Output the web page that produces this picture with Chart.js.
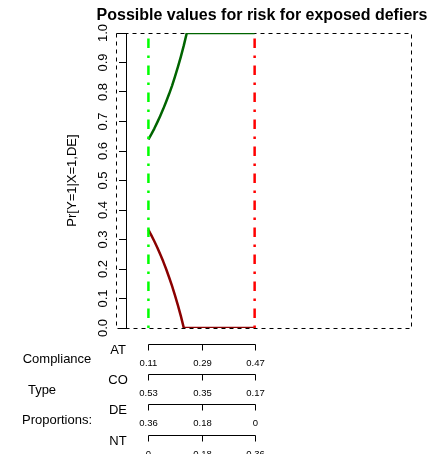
<!DOCTYPE html>
<html>
<head>
<meta charset="utf-8">
<script src="https://cdn.jsdelivr.net/npm/chart.js@4.4.0/dist/chart.umd.min.js"></script>
<style>
  body { margin: 0; background: #fff; }
  canvas { display: block; }
</style>
</head>
<body>
<canvas id="bounds-chart" width="436" height="454"></canvas>
<script>
// Bounds on the risk for exposed defiers across admissible always-taker shares

const FONT = '"Liberation Sans", Arial, Helvetica, sans-serif';

// always-taker proportion along x, with the bounds at each value
const atGrid = [0.11, 0.12, 0.13, 0.14, 0.15, 0.16, 0.17, 0.18, 0.19, 0.20, 0.21, 0.22, 0.23, 0.24, 0.47];
const upperBound = [0.639, 0.657, 0.676, 0.697, 0.719, 0.742, 0.767, 0.793, 0.821, 0.852, 0.885, 0.920, 0.958, 1.000, 1.000];
const lowerBound = [0.333, 0.314, 0.294, 0.273, 0.250, 0.226, 0.200, 0.172, 0.143, 0.111, 0.077, 0.040, 0.000, 0.000, 0.000];

// admissible AT range: minimum (green) and maximum (red)
const atLimits = [0.11, 0.47];
const probRange = [0, 1];

const yTickLabels = ['0.0', '0.1', '0.2', '0.3', '0.4', '0.5', '0.6', '0.7', '0.8', '0.9', '1.0'];

// compliance type proportion scales under the plot
const typeNames = ['AT', 'CO', 'DE', 'NT'];
const typeTickAt = [0.11, 0.29, 0.47];
const typeTicks = [
    ['0.11', '0.29', '0.47'],
    ['0.53', '0.35', '0.17'],
    ['0.36', '0.18', '0'],
    ['0', '0.18', '0.36']
];
const sideLabels = ['Compliance', 'Type', 'Proportions:'];

const toPoints = (xs, ys) => xs.map((v, i) => ({ x: v, y: ys[i] }));

// Frame, title and the proportion scales are drawn by hand
const decorations = {
    id: 'decorations',
    beforeDatasetsDraw(chart) {
        const { ctx, scales: { x, y } } = chart;
        const l = x.getPixelForValue(probRange[0]);
        const r = x.getPixelForValue(probRange[1]);
        const t = y.getPixelForValue(probRange[1]);
        const b = y.getPixelForValue(probRange[0]);
        ctx.save();
        ctx.strokeStyle = '#000';
        ctx.lineWidth = 1;
        ctx.setLineDash([4, 4]);
        ctx.strokeRect(Math.round(l) + 0.5, Math.round(t) + 0.5, Math.round(r - l), Math.round(b - t));
        ctx.restore();
    },
    afterDraw(chart) {
        const { ctx, scales: { x } } = chart;
        ctx.save();
        ctx.fillStyle = '#000';
        ctx.strokeStyle = '#000';
        ctx.lineWidth = 1;

        ctx.font = `bold 16px ${FONT}`;
        ctx.textAlign = 'center';
        ctx.textBaseline = 'alphabetic';
        ctx.fillText('Possible values for risk for exposed defiers', 262, 20);

        const rowTop = 343.5;
        const rowGap = 30.4;
        const xs = typeTickAt.map(v => Math.round(x.getPixelForValue(v)) + 0.5);
        ctx.textBaseline = 'middle';
        typeNames.forEach((name, i) => {
            const yy = Math.round(rowTop + i * rowGap) + 0.5;
            ctx.beginPath();
            ctx.moveTo(xs[0], yy);
            ctx.lineTo(xs[xs.length - 1], yy);
            xs.forEach(px => {
                ctx.moveTo(px, yy);
                ctx.lineTo(px, yy + 6);
            });
            ctx.stroke();

            ctx.font = `9.5px ${FONT}`;
            typeTicks[i].forEach((lab, j) => ctx.fillText(lab, xs[j], yy + 18.5));

            ctx.font = `13px ${FONT}`;
            ctx.fillText(name, 118, yy + 6);
        });

        ctx.font = `13px ${FONT}`;
        ctx.fillText(sideLabels[0], 57, 359);
        ctx.fillText(sideLabels[1], 42, 390);
        ctx.fillText(sideLabels[2], 57, 420);
        ctx.restore();
    }
};

const ctx = document.getElementById('bounds-chart');

new Chart(ctx, {
    type: 'scatter',
    data: {
        datasets: [
            {
                data: toPoints([atLimits[0], atLimits[0]], probRange),
                showLine: true,
                borderColor: '#00ff00',
                borderWidth: 2.5,
                borderDash: [2.5, 7.5, 9.5, 7.5],
                pointRadius: 0
            },
            {
                data: toPoints([atLimits[1], atLimits[1]], probRange),
                showLine: true,
                borderColor: '#ff0000',
                borderWidth: 2.5,
                borderDash: [2.5, 7.5, 9.5, 7.5],
                pointRadius: 0
            },
            {
                data: toPoints(atGrid, upperBound),
                showLine: true,
                borderColor: '#006400',
                borderWidth: 2.5,
                borderJoinStyle: 'round',
                pointRadius: 0,
                tension: 0
            },
            {
                data: toPoints(atGrid, lowerBound),
                showLine: true,
                borderColor: '#8b0000',
                borderWidth: 2.5,
                borderJoinStyle: 'round',
                pointRadius: 0,
                tension: 0
            }
        ]
    },
    options: {
        responsive: false,
        animation: false,
        events: [],
        layout: {
            padding: { left: 61, right: 25, top: 33, bottom: 126 }
        },
        plugins: {
            legend: { display: false },
            tooltip: { enabled: false },
            title: { display: false }
        },
        scales: {
            x: {
                type: 'linear',
                display: false,
                min: 0.034,
                max: 1
            },
            y: {
                type: 'linear',
                min: 0,
                max: 1,
                afterFit: (scale) => { scale.width = 65; },
                border: { display: true, color: '#000', width: 1 },
                grid: {
                    drawOnChartArea: false,
                    drawTicks: true,
                    tickLength: 7,
                    tickColor: '#000'
                },
                ticks: {
                    stepSize: 0.1,
                    minRotation: 90,
                    maxRotation: 90,
                    crossAlign: 'center',
                    padding: 7,
                    color: '#000',
                    font: { family: FONT, size: 13 },
                    callback: (value, index) => yTickLabels[index]
                },
                title: {
                    display: true,
                    text: 'Pr[Y=1|X=1,DE]',
                    color: '#000',
                    font: { family: FONT, size: 13 },
                    padding: { top: 4, bottom: 4 }
                }
            }
        }
    },
    plugins: [decorations]
});
</script>
</body>
</html>
